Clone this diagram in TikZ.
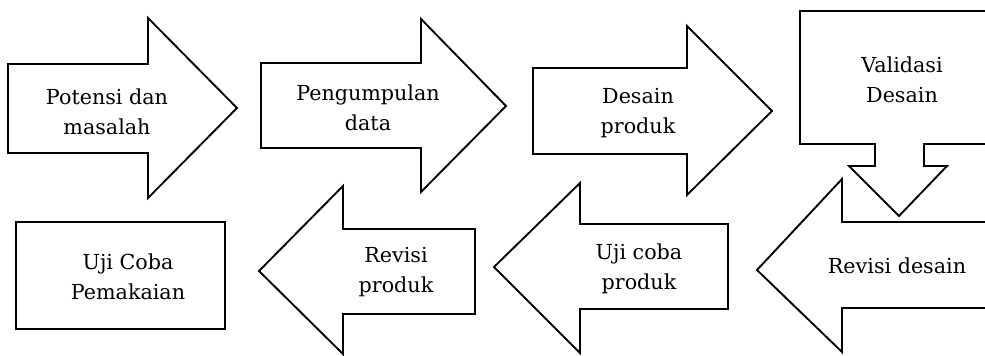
\documentclass[tikz,border=0pt]{standalone}
\usepackage{fontspec}
\setmainfont{DejaVu Serif}
\tikzset{
  shp/.style={draw=black, fill=white, line width=1.4pt, line join=miter},
  lbl/.style={align=center, font=\fontsize{15.5}{22.5}\selectfont, inner sep=0pt}
}
\begin{document}
\begin{tikzpicture}[x=0.75pt,y=-0.75pt]
\useasboundingbox (0,0) rectangle (985,356);
\clip (0,0) rectangle (985,356);
% top row: right arrows
\draw[shp] (8,64) -- (148,64) -- (148,18) -- (237,108) -- (148,198) -- (148,153) -- (8,153) -- cycle;
\draw[shp] (261,63) -- (421,63) -- (421,19) -- (506,106) -- (421,192) -- (421,148) -- (261,148) -- cycle;
\draw[shp] (533,68) -- (687,68) -- (687,26) -- (772,111) -- (687,195) -- (687,154) -- (533,154) -- cycle;
% validasi (down arrow callout)
\draw[shp] (800,11) -- (995,11) -- (995,144) -- (924,144) -- (924,166) -- (947,166) -- (899,216) -- (849,166) -- (875,166) -- (875,144) -- (800,144) -- cycle;
% bottom row: left arrows
\draw[shp] (995,222) -- (842,222) -- (842,179) -- (757,270) -- (842,352) -- (842,308) -- (995,308) -- cycle;
\draw[shp] (728,224) -- (580,224) -- (580,183) -- (494,267) -- (580,353) -- (580,309) -- (728,309) -- cycle;
\draw[shp] (475,229) -- (343,229) -- (343,186) -- (259,271) -- (343,354) -- (343,314) -- (475,314) -- cycle;
\draw[shp] (16,222) rectangle (225,329);
% labels
\node[lbl] (potensi) at (107,112) {Potensi dan\\masalah};
\node[lbl] (pengumpulan) at (368,108) {Pengumpulan\\data};
\node[lbl] (desain) at (638,113) {Desain\\produk};
\node[lbl] (validasi) at (902,80) {Validasi\\Desain};
\node[lbl] (revdesain) at (897,266) {Revisi desain};
\node[lbl] (ujiproduk) at (639,269) {Uji coba\\produk};
\node[lbl] (revproduk) at (396,272) {Revisi\\produk};
\node[lbl] (ujipakai) at (128,277) {Uji Coba\\Pemakaian};
\end{tikzpicture}
\end{document}
